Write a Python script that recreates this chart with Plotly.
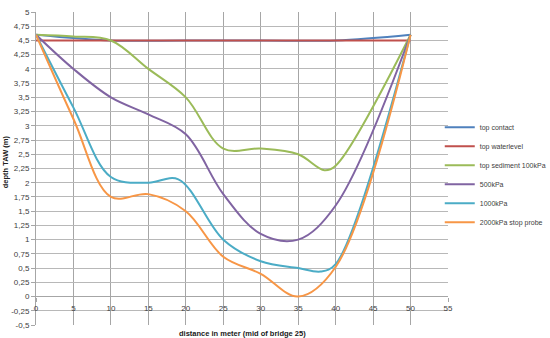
import plotly.graph_objects as go

# ---- data ----
contact_x = [0, 10, 20, 30, 40, 50]
contact_y = [4.6, 4.5, 4.5, 4.5, 4.5, 4.6]

water_x = [0, 50]
water_y = [4.5, 4.5]

sed_x = [0, 5, 10, 15, 20, 25, 30, 35, 38.5, 40, 50]
sed_y = [4.6, 4.57, 4.5, 4.0, 3.5, 2.6, 2.6, 2.5, 2.22, 2.3, 4.6]

p500_x = [0, 5, 10, 15, 20, 25, 30, 35, 40, 50]
p500_y = [4.6, 4.0, 3.5, 3.2, 2.85, 1.8, 1.1, 1.0, 1.6, 4.6]

p1000_x = [0, 5, 10, 15, 19, 25, 30, 35, 38, 40, 50]
p1000_y = [4.6, 3.32, 2.1, 2.0, 2.06, 1.0, 0.62, 0.5, 0.44, 0.57, 4.6]

p2000_x = [0, 5, 10, 15, 20, 25, 30, 35, 40, 50]
p2000_y = [4.6, 3.12, 1.75, 1.8, 1.5, 0.7, 0.4, 0.0, 0.52, 4.6]

names = ["top contact", "top waterlevel", "top sediment 100kPa", "500kPa",
         "1000kPa", "2000kPa stop probe"]
colors = ["#4F81BD", "#C0504D", "#9BBB59", "#8064A2", "#4BACC6", "#F79646"]

x_ticks = [0, 5, 10, 15, 20, 25, 30, 35, 40, 45, 50, 55]
y_ticks = [-0.5, -0.25, 0, 0.25, 0.5, 0.75, 1, 1.25, 1.5, 1.75, 2, 2.25, 2.5,
           2.75, 3, 3.25, 3.5, 3.75, 4, 4.25, 4.5, 4.75, 5]
y_tick_text = ["-0,5", "-0,25", "0", "0,25", "0,5", "0,75", "1", "1,25", "1,5",
               "1,75", "2", "2,25", "2,5", "2,75", "3", "3,25", "3,5", "3,75",
               "4", "4,25", "4,5", "4,75", "5"]

series = [(contact_x, contact_y), (water_x, water_y), (sed_x, sed_y),
          (p500_x, p500_y), (p1000_x, p1000_y), (p2000_x, p2000_y)]

fig = go.Figure()
for (xs, ys), n, c in zip(series, names, colors):
    fig.add_trace(go.Scatter(x=xs, y=ys, name=n, mode="lines",
                             line=dict(color=c, width=2, shape="spline", smoothing=1)))

tick_font = dict(family="Liberation Sans, Arial, sans-serif", size=8, color="#404040")

fig.update_layout(
    width=550, height=338,
    margin=dict(l=36, r=102, t=12, b=13, autoexpand=False),
    paper_bgcolor="white", plot_bgcolor="white",
    showlegend=True,
    legend=dict(x=0.98, xanchor="left", y=0.48, yanchor="middle",
                font=dict(family="Liberation Sans, Arial, sans-serif", size=7, color="#404040"),
                bgcolor="rgba(0,0,0,0)", tracegroupgap=0, itemwidth=30),
    xaxis=dict(range=[0, 55], tickvals=x_ticks, ticktext=[str(v) for v in x_ticks],
               showgrid=True, gridcolor="#a6a6a6", gridwidth=1,
               zeroline=False, showline=False,
               anchor="free", position=0.5 / 5.5,
               ticks="outside", ticklen=4, tickcolor="#a6a6a6",
               tickfont=tick_font),
    yaxis=dict(range=[-0.5, 5], tickvals=y_ticks, ticktext=y_tick_text,
               showgrid=True, gridcolor="#b8b8b8", gridwidth=1,
               zeroline=True, zerolinecolor="#a6a6a6", zerolinewidth=1,
               showline=True, linecolor="#a6a6a6", linewidth=1,
               ticks="outside", ticklen=4, tickcolor="#a6a6a6",
               tickfont=tick_font),
    annotations=[
        dict(text="<b>distance in meter (mid of bridge 25)</b>", xref="paper", yref="paper",
             x=0.5, y=-0.005, xanchor="center", yanchor="top", showarrow=False,
             font=dict(family="Liberation Sans, Arial, sans-serif", size=7.5, color="#202020")),
        dict(text="<b>depth TAW (m)</b>", xref="paper", yref="paper",
             x=-0.075, y=0.52, xanchor="center", yanchor="middle", showarrow=False,
             textangle=-90,
             font=dict(family="Liberation Sans, Arial, sans-serif", size=7.5, color="#202020")),
    ],
)

fig.write_html("out.html")
